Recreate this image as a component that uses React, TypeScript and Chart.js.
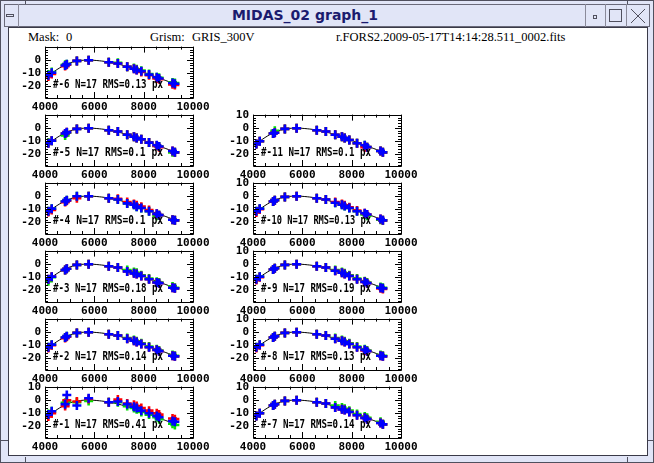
import React, { useEffect, useRef } from 'react';
import { Chart, registerables } from 'chart.js';

Chart.register(...registerables);

// ---------- data ----------
const lineWavelengths = [4135, 4273, 4816, 4884, 5292, 5769, 6585, 6953, 7333, 7606, 7716, 7905, 8218, 8531, 8626, 9170, 9265];

const fitX = [4150, 4300, 4450, 4600, 4750, 4900, 5050, 5200, 5350, 5500, 5650, 5800, 5950, 6100, 6300, 6500, 6700, 6900, 7100, 7300, 7500, 7700, 7900, 8100, 8300, 8500, 8700, 8900, 9100, 9350];
const fitY = [-11.8, -9.6, -7.6, -5.8, -4.2, -2.9, -1.8, -1.0, -0.4, -0.05, 0.1, 0.1, 0, -0.2, -0.6, -1.1, -1.8, -2.6, -3.6, -4.7, -5.9, -7.2, -8.6, -10.0, -11.4, -12.8, -14.2, -15.6, -17.0, -18.7];

const xTickValues = [4000, 6000, 8000, 10000];
const xMinorTickValues = [4000, 4500, 5000, 5500, 6000, 6500, 7000, 7500, 8000, 8500, 9000, 9500, 10000];
const yTickValues = [10, 0, -10, -20];
const yMinorTickValues = [10, 8, 6, 4, 2, 0, -2, -4, -6, -8, -10, -12, -14, -16, -18, -20, -22, -24, -26, -28];

const panelIds = [-6, -5, -11, -4, -10, -3, -9, -2, -8, -1, -7];
const panelRms = ['0.13', '0.1', '0.1', '0.1', '0.13', '0.18', '0.19', '0.14', '0.13', '0.41', '0.14'];
const panelN = [17, 17, 17, 17, 17, 17, 17, 17, 17, 17, 17];

const blueM6 = [-11.5, -9.5, -4, -3, -0.5, 0, -1.5, -2.5, -5, -6.5, -7.5, -8.5, -11, -13, -14, -17.5, -18];
const redM6 = [-12.5, -10.5, -4.5, -3.5, -0.5, 0, -1.5, -2.5, -5, -6.5, -7.5, -9, -11.5, -14, -14.5, -18.5, -19];
const greenM6 = [-11, -9, -3.5, -3, -0.5, 0, -1.5, -2, -5, -6, -7, -8, -10.5, -13, -13.5, -17, -17.5];

const blueM5 = [-11.5, -9.5, -4, -3, -0.5, 0, -1.5, -2.5, -5, -6.5, -7.5, -8.5, -11, -13, -14, -17.5, -18.5];
const redM5 = [-11.5, -9.5, -4, -3, -0.5, 0, -1.5, -2.5, -5, -6.5, -7.5, -8.5, -11, -13.5, -14.5, -17.5, -18.5];
const greenM5 = [-11, -9.5, -5.5, -3.5, -0.5, 0, -1.5, -2.5, -5, -6.5, -7.5, -8.5, -11, -13.5, -14, -18.5, -18.5];

const blueM11 = [-12, -10, -4, -3.5, -0.5, 0, -1.5, -2.5, -5, -6.5, -7.5, -9, -11.5, -13, -14.5, -17.5, -18.5];
const redM11 = [-12, -10, -4, -3.5, -0.5, 0, -1.5, -2.5, -5, -6.5, -7.5, -9, -11.5, -14.5, -14.5, -17.5, -18.5];
const greenM11 = [-12, -10, -4, -2, -0.5, 0, -1.5, -2.5, -5, -6.5, -7.5, -9, -11.5, -13, -14.5, -17.5, -18.5];

const blueM4 = [-11.5, -9.5, -4, -3, 0, 0, -1.5, -2.5, -5.5, -6.5, -8, -9, -11.5, -13.5, -14.5, -18, -18.5];
const redM4 = [-12, -10.5, -4.5, -3.5, -1.5, 0, -1.5, -2, -4.5, -6, -7, -8, -10.5, -13.5, -14.5, -18, -18.5];
const greenM4 = [-11.5, -9.5, -4, -3, 0, 0, -1.5, -2.5, -5.5, -6.5, -8, -9, -11.5, -15, -14.5, -18, -18.5];

const blueM10 = [-11.5, -9.5, -4, -3, -0.5, 0, -1.5, -2.5, -5, -6.5, -7.5, -9, -11.5, -13, -14, -17.5, -18.5];
const redM10 = [-12.5, -10, -4, -3, -0.5, 0, -1.5, -2.5, -4.5, -6, -7, -8.5, -11, -13, -14, -17.5, -18.5];
const greenM10 = [-11.5, -9.5, -4, -3, -0.5, 0, -1.5, -2.5, -5, -6.5, -7.5, -9, -11.5, -14, -15, -18, -18.5];

const blueM3 = [-11.5, -9.5, -4.5, -3.5, -0.5, 0, -1.5, -2.5, -5.5, -7, -7.5, -9, -11.5, -14, -14.5, -18, -18.5];
const redM3 = [-11.5, -9.5, -4.5, -3.5, -0.5, 0, -1.5, -2.5, -5.5, -7, -7.5, -9, -11.5, -14, -14.5, -18, -18.5];
const greenM3 = [-13, -10, -4.5, -3.5, -0.5, 0, -1.5, -2.5, -4.5, -6, -6.5, -8.5, -11, -13.5, -14, -17, -18];

const blueM9 = [-11.5, -9.5, -4, -3, -0.5, 0, -1.5, -2.5, -5, -6.5, -7.5, -9, -11.5, -13.5, -14.5, -18, -18.5];
const redM9 = [-12, -10, -4, -3, -0.5, 0, -1.5, -2.5, -5, -6.5, -7.5, -9, -11.5, -13.5, -14.5, -18.5, -19];
const greenM9 = [-11.5, -9.5, -4, -3, -0.5, 0, -1.5, -2.5, -4.5, -6, -7, -8.5, -11, -13, -14, -17.5, -18];

const blueM2 = [-11.5, -9.5, -4, -3, -0.5, 0, -1.5, -2.5, -5, -6.5, -7.5, -9, -11.5, -13.5, -14.5, -18, -18.5];
const redM2 = [-12, -10, -4.5, -3.5, -0.5, 0, -1.5, -2.5, -5, -6.5, -7.5, -9, -11.5, -13.5, -14.5, -18, -18.5];
const greenM2 = [-11.5, -9.5, -4, -3, -0.5, 0, -1.5, -2.5, -4.5, -6, -7, -8.5, -11, -13, -14, -17.5, -18];

const blueM8 = [-11.5, -9.5, -4, -3, -0.5, 0, -1.5, -2.5, -5, -6.5, -7.5, -9, -11.5, -13.5, -14.5, -18, -18.5];
const redM8 = [-12, -10, -4, -3, -0.5, 0, -1.5, -2.5, -5, -6.5, -7.5, -9, -11.5, -14, -14.5, -18, -18.5];
const greenM8 = [-11.5, -9.5, -4, -3, -0.5, 0, -1.5, -2.5, -4.5, -6, -7, -8.5, -11, -13, -14, -17.5, -18];

const blueM1 = [-11, -8.5, -3, 4, -4, 1.5, -1.5, -1, -3, -5, -6, -8, -10, -12, -13, -16, -16.5];
const redM1 = [-12.5, -10, -4.5, 0, -1, 1, -1.5, 0.5, -2.5, -3.5, -4.5, -6, -8, -10, -11, -14, -14.5];
const greenM1 = [-10.5, -8.5, -2, -1, -1.5, -0.5, -1.5, -1.5, -4.5, -6, -7, -9, -11, -13, -14.5, -18, -19];

const blueM7 = [-12, -10, -4, -3, -0.5, 0, -1.5, -2.5, -5.5, -7, -7.5, -9, -11.5, -13.5, -14.5, -17.5, -18.5];
const redM7 = [-12, -10, -4, -3, -0.5, 0, -1.5, -2.5, -5.5, -7, -7.5, -9, -11.5, -13.5, -14.5, -17.5, -18.5];
const greenM7 = [-12, -10, -4, -3, -0.5, 0, -1.5, -2.5, -4, -5.5, -6.5, -8, -10.5, -12.5, -13.5, -16.5, -18.5];

const panelBlue = [blueM6, blueM5, blueM11, blueM4, blueM10, blueM3, blueM9, blueM2, blueM8, blueM1, blueM7];
const panelRed = [redM6, redM5, redM11, redM4, redM10, redM3, redM9, redM2, redM8, redM1, redM7];
const panelGreen = [greenM6, greenM5, greenM11, greenM4, greenM10, greenM3, greenM9, greenM2, greenM8, greenM1, greenM7];

// ---------- layout ----------
const panelCol = [0, 0, 1, 0, 1, 0, 1, 0, 1, 0, 1];
const panelRow = [0, 1, 1, 2, 2, 3, 3, 4, 4, 5, 5];
const colBoxLeft = [45, 253];
const rowBoxTop = [46, 114, 182, 250, 318, 386];
const BOX_W = 148;
const BOX_H = 52;
const PAD_L = 36;
const PAD_R = 24;
const PAD_T = 10;
const PAD_B = 18;
const Y_MIN = -29;
const Y_MAX = 10.5;

const LABEL_FONT = { family: "'DejaVu Sans Mono', monospace", size: 11, weight: 'bold' as const };

const framePlugin = {
  id: 'midasFrame',
  afterDraw(chart: any, _args: any, opts: any) {
    const { ctx, chartArea } = chart;
    const xs = chart.scales.x;
    const ys = chart.scales.y;
    const { left, right, top, bottom } = chartArea;
    ctx.save();
    ctx.strokeStyle = '#000';
    ctx.lineWidth = 1;
    ctx.beginPath();
    ctx.rect(Math.round(left) + 0.5, Math.round(top) + 0.5, Math.round(right - left), Math.round(bottom - top));
    ctx.stroke();
    ctx.beginPath();
    xMinorTickValues.forEach((v) => {
      const px = Math.round(xs.getPixelForValue(v)) + 0.5;
      const len = xTickValues.includes(v) ? 6 : 3;
      ctx.moveTo(px, top);
      ctx.lineTo(px, top + len);
      ctx.moveTo(px, bottom);
      ctx.lineTo(px, bottom - len);
    });
    yMinorTickValues.forEach((v) => {
      const py = Math.round(ys.getPixelForValue(v)) + 0.5;
      const len = yTickValues.includes(v) ? 6 : 3;
      ctx.moveTo(left, py);
      ctx.lineTo(left + len, py);
      ctx.moveTo(right, py);
      ctx.lineTo(right - len, py);
    });
    ctx.stroke();
    ctx.fillStyle = '#000';
    ctx.font = "bold 12px 'DejaVu Sans Mono', monospace";
    ctx.textBaseline = 'middle';
    ctx.textAlign = 'left';
    const w = ctx.measureText(opts.text).width;
    const sx = Math.min(1, opts.width / w);
    ctx.translate(left + 8, top + 38);
    ctx.scale(sx, 1);
    ctx.fillText(opts.text, 0, 0);
    ctx.restore();
  },
};

function Panel({ idx }: { idx: number }) {
  const ref = useRef<HTMLCanvasElement>(null);
  const col = panelCol[idx];
  const row = panelRow[idx];
  const showTop = col === 1 || row === 5;
  const canvasLeft = colBoxLeft[col] - PAD_L;
  const canvasTop = rowBoxTop[row] - PAD_T;
  const W = PAD_L + BOX_W + PAD_R;
  const H = PAD_T + BOX_H + PAD_B;

  useEffect(() => {
    const pts = (ys: number[]) => lineWavelengths.map((x, i) => ({ x, y: ys[i] }));
    const crossSet = (data: any, color: string) => ({
      type: 'scatter' as const,
      data,
      pointStyle: 'cross',
      radius: 4.5,
      borderWidth: 2.6,
      borderColor: color,
      backgroundColor: color,
      showLine: false,
    });
    const yTicks = yTickValues.filter((v) => showTop || v !== 10);
    const chart = new Chart(ref.current!, {
      type: 'scatter',
      data: {
        datasets: [
          crossSet(pts(panelBlue[idx]), '#0000ff'),
          crossSet(pts(panelRed[idx]), '#ff0000'),
          crossSet(pts(panelGreen[idx]), '#00e000'),
          {
            type: 'line' as const,
            data: fitX.map((x, i) => ({ x, y: fitY[i] })),
            borderColor: '#000',
            borderWidth: 1,
            pointRadius: 0,
            tension: 0.3,
            fill: false,
          } as any,
        ],
      },
      options: {
        responsive: false,
        animation: false,
        devicePixelRatio: 1,
        events: [],
        layout: { padding: { left: 0, right: PAD_R, top: PAD_T, bottom: 0 } },
        plugins: {
          legend: { display: false },
          tooltip: { enabled: false },
          midasFrame: { text: `#${panelIds[idx]} N=${panelN[idx]} RMS=${panelRms[idx]} px`, width: 110 },
        } as any,
        scales: {
          x: {
            type: 'linear',
            min: 4000,
            max: 10000,
            afterBuildTicks: (s: any) => {
              s.ticks = xTickValues.map((v) => ({ value: v }));
            },
            afterFit: (s: any) => {
              s.height = PAD_B;
            },
            grid: { display: false, drawTicks: false },
            border: { display: false },
            ticks: {
              font: LABEL_FONT,
              color: '#000',
              padding: 3,
              maxRotation: 0,
              minRotation: 0,
              autoSkip: false,
              callback: (v: any) => String(v),
            },
          },
          y: {
            type: 'linear',
            min: Y_MIN,
            max: Y_MAX,
            afterBuildTicks: (s: any) => {
              s.ticks = yTicks.map((v) => ({ value: v }));
            },
            afterFit: (s: any) => {
              s.width = PAD_L;
            },
            grid: { display: false, drawTicks: false },
            border: { display: false },
            ticks: {
              font: LABEL_FONT,
              color: '#000',
              padding: 4,
              autoSkip: false,
              callback: (v: any) => String(v),
            },
          },
        },
      },
      plugins: [framePlugin],
    } as any);
    return () => chart.destroy();
  }, [idx]);

  return (
    <canvas
      ref={ref}
      width={W}
      height={H}
      style={{ position: 'absolute', left: canvasLeft, top: canvasTop, width: W, height: H }}
    />
  );
}

const headerMaskLabel = 'Mask:';
const headerMaskValue = '0';
const headerGrismLabel = 'Grism:';
const headerGrismValue = 'GRIS_300V';
const headerFile = 'r.FORS2.2009-05-17T14:14:28.511_0002.fits';
const windowTitle = 'MIDAS_02 graph_1';

export default function App() {
  const lav = '#e1e5f7';
  const abs = (s: React.CSSProperties): React.CSSProperties => ({ position: 'absolute', boxSizing: 'border-box', ...s });
  const headerFont: React.CSSProperties = {
    fontFamily: "'Liberation Serif', serif",
    fontSize: 12.5,
    color: '#000',
    whiteSpace: 'pre',
    lineHeight: '14px',
  };
  return (
    <div style={{ position: 'fixed', left: 0, top: 0, width: 654, height: 463, background: lav, overflow: 'hidden' }}>
      {/* outer border */}
      <div style={abs({ left: 0, top: 0, width: 654, height: 463, border: '1px solid #50505e' })} />
      {/* resize marks */}
      <div style={abs({ left: 25, top: 0, width: 1, height: 4, background: '#50505e' })} />
      <div style={abs({ left: 627, top: 0, width: 1, height: 4, background: '#50505e' })} />
      <div style={abs({ left: 25, top: 457, width: 1, height: 6, background: '#50505e' })} />
      <div style={abs({ left: 627, top: 457, width: 1, height: 6, background: '#50505e' })} />
      <div style={abs({ left: 647, top: 440, width: 7, height: 1, background: '#50505e' })} />
      <div style={abs({ left: 0, top: 440, width: 8, height: 1, background: '#50505e' })} />
      {/* title bar */}
      <div style={abs({ left: 4, top: 4, width: 646, height: 23, border: '1px solid #6a6a7a', background: lav })} />
      <div style={abs({ left: 18, top: 4, width: 1, height: 23, background: '#8a8a9a' })} />
      <div style={abs({ left: 6, top: 14, width: 8, height: 3, border: '1px solid #50505e' })} />
      <div style={abs({ left: 585, top: 4, width: 1, height: 23, background: '#8a8a9a' })} />
      <div style={abs({ left: 605, top: 4, width: 1, height: 23, background: '#8a8a9a' })} />
      <div style={abs({ left: 626, top: 4, width: 1, height: 23, background: '#8a8a9a' })} />
      <div style={abs({ left: 593, top: 15, width: 4, height: 4, border: '1px solid #50505e' })} />
      <div style={abs({ left: 609, top: 9, width: 13, height: 13, border: '1px solid #50505e' })} />
      <svg style={{ position: 'absolute', left: 630, top: 8, width: 16, height: 16 }} viewBox="0 0 16 16">
        <path d="M1 1 L15 15 M15 1 L1 15" stroke="#50505e" strokeWidth="1" fill="none" />
      </svg>
      <div
        style={abs({
          left: 19,
          top: 5,
          width: 572,
          height: 21,
          textAlign: 'center',
          fontFamily: "'DejaVu Sans', sans-serif",
          fontWeight: 'bold',
          fontSize: 14,
          lineHeight: '21px',
          color: '#1b1b6e',
        })}
      >
        {windowTitle}
      </div>
      {/* content */}
      <div style={abs({ left: 8, top: 27, width: 640, height: 429, background: '#fff', border: '1px solid #3a3a48' })} />
      <div style={abs({ left: 28, top: 30, ...headerFont })}>{headerMaskLabel}</div>
      <div style={abs({ left: 66, top: 30, ...headerFont })}>{headerMaskValue}</div>
      <div style={abs({ left: 150, top: 30, ...headerFont })}>{headerGrismLabel}</div>
      <div style={abs({ left: 192, top: 30, ...headerFont })}>{headerGrismValue}</div>
      <div style={abs({ left: 336, top: 30, ...headerFont })}>{headerFile}</div>
      {panelIds.map((_, i) => (
        <Panel key={i} idx={i} />
      ))}
    </div>
  );
}
